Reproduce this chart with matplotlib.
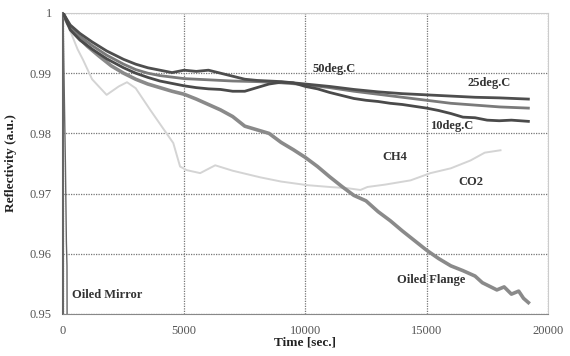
import matplotlib
matplotlib.use("Agg")
import matplotlib.pyplot as plt

# Reflectivity time series (time in seconds)
t_25 = [0, 300, 700, 1200, 1800, 2500, 3000, 3500, 4000, 4500, 5000, 5500, 6000, 6500, 7000,
        7500, 8000, 8500, 9000, 9500, 10000, 11000, 12000, 13000, 14000, 15000, 16000, 17000,
        18000, 19200]
r_25 = [1.0, 0.9980, 0.9966, 0.9952, 0.9937, 0.9923, 0.9915, 0.9909, 0.9905, 0.9901, 0.9905,
        0.9903, 0.9905, 0.9900, 0.9895, 0.9890, 0.9888, 0.9887, 0.9886, 0.9884, 0.9882, 0.9878,
        0.9873, 0.9869, 0.9866, 0.9864, 0.9862, 0.9860, 0.9859, 0.9857]

t_50 = [0, 300, 700, 1200, 1800, 2500, 3000, 3500, 4000, 5000, 6000, 7000, 8000, 9000, 10000,
        11000, 12000, 13000, 14000, 15000, 16000, 17000, 18000, 19200]
r_50 = [1.0, 0.9977, 0.9961, 0.9946, 0.9930, 0.9915, 0.9906, 0.9900, 0.9896, 0.9891, 0.9889,
        0.9887, 0.9886, 0.9884, 0.9881, 0.9876, 0.9870, 0.9865, 0.9860, 0.9855, 0.9850, 0.9847,
        0.9844, 0.9842]

t_10 = [0, 300, 700, 1200, 1800, 2500, 3000, 3500, 4000, 4500, 5000, 5500, 6000, 6500, 7000,
        7500, 8000, 8500, 9000, 9500, 10000, 10500, 11000, 11500, 12000, 12500, 13000, 13500,
        14000, 14500, 15000, 15500, 16000, 16500, 17000, 17500, 18000, 18500, 19200]
r_10 = [1.0, 0.9972, 0.9955, 0.9940, 0.9924, 0.9909, 0.9900, 0.9893, 0.9887, 0.9883, 0.9879,
        0.9876, 0.9874, 0.9873, 0.9870, 0.9870, 0.9876, 0.9882, 0.9885, 0.9884, 0.9878, 0.9874,
        0.9868, 0.9863, 0.9858, 0.9855, 0.9853, 0.9850, 0.9848, 0.9845, 0.9842, 0.9838, 0.9833,
        0.9827, 0.9826, 0.9822, 0.9821, 0.9822, 0.9820]

t_flange = [0, 200, 500, 1000, 1500, 2000, 2500, 3000, 3500, 4000, 4500, 5000, 5500, 6000, 6500,
            7000, 7500, 8000, 8500, 9000, 9500, 10000, 10500, 11000, 11500, 12000, 12500, 13000,
            13500, 14000, 14500, 15000, 15500, 16000, 16500, 17000, 17300, 17600, 17900, 18200,
            18500, 18800, 19000, 19200]
r_flange = [1.0, 0.9982, 0.9965, 0.9945, 0.9928, 0.9912, 0.9900, 0.9890, 0.9882, 0.9876, 0.9870,
            0.9865, 0.9857, 0.9848, 0.9839, 0.9828, 0.9812, 0.9806, 0.9800, 0.9785, 0.9773,
            0.9760, 0.9745, 0.9728, 0.9712, 0.9697, 0.9688, 0.9670, 0.9655, 0.9638, 0.9622,
            0.9606, 0.9592, 0.9580, 0.9572, 0.9563, 0.9552, 0.9546, 0.9540, 0.9545, 0.9533,
            0.9538, 0.9526, 0.9519]

t_gas = [0, 300, 600, 830, 1200, 1800, 2300, 2640, 3000, 3600, 4100, 4550, 4830, 5100, 5660,
         6280, 7000, 8140, 9000, 10080, 11000, 11730, 12270, 12560, 13300, 14340, 15160, 16000,
         16810, 17400, 18050]
r_gas = [1.0, 0.997, 0.994, 0.9922, 0.989, 0.9864, 0.9878, 0.9885, 0.9875, 0.9839, 0.981,
         0.9784, 0.9745, 0.9739, 0.9734, 0.9747, 0.9738, 0.9727, 0.9720, 0.9714, 0.9711, 0.9709,
         0.9706, 0.9711, 0.9715, 0.9722, 0.9734, 0.9742, 0.9755, 0.9768, 0.9772]

t_mirror = [0, 60, 100, 140, 165, 170]
r_mirror = [1.0, 0.985, 0.975, 0.962, 0.958, 0.949]

x_ticks = [0, 5000, 10000, 15000, 20000]
y_ticks = [0.95, 0.96, 0.97, 0.98, 0.99, 1.0]
y_tick_labels = ["0.95", "0.96", "0.97", "0.98", "0.99", "1"]

serif = ["Liberation Serif", "DejaVu Serif"]

fig = plt.figure(figsize=(5.7, 3.56), dpi=100)
ax = fig.add_axes([0.1105, 0.118, 0.8505, 0.8455])

ax.set_xlim(0, 20000)
ax.set_ylim(0.95, 1.0)
ax.set_xticks(x_ticks)
ax.set_yticks(y_ticks)
ax.set_yticklabels(y_tick_labels)
ax.tick_params(length=0, labelsize=9, colors="#555555", pad=8)
for lab in ax.get_xticklabels() + ax.get_yticklabels():
    lab.set_fontfamily(serif)

ax.grid(True, color="#777777", linestyle=(0, (1, 1)), linewidth=0.9)
ax.set_axisbelow(True)
for side in ("top", "right"):
    ax.spines[side].set_color("#cccccc")
    ax.spines[side].set_linewidth(0.8)
ax.spines["bottom"].set_color("#888888")
ax.spines["bottom"].set_linestyle((0, (1, 1)))
ax.spines["left"].set_color("#666666")
ax.spines["left"].set_linewidth(1.5)

ax.plot(t_gas, r_gas, color="#d4d4d4", linewidth=1.4, zorder=2)
ax.plot(t_mirror, r_mirror, color="#666666", linewidth=1.0, zorder=2, clip_on=True)
ax.plot(t_flange, r_flange, color="#8a8a8a", linewidth=2.6, zorder=3)
ax.plot(t_50, r_50, color="#7a7a7a", linewidth=2.0, zorder=4)
ax.plot(t_25, r_25, color="#4e4e4e", linewidth=2.0, zorder=4)
ax.plot(t_10, r_10, color="#4a4a4a", linewidth=2.0, zorder=4)

label_kw = dict(fontfamily=serif, fontweight="bold", fontsize=9, color="#333333",
                va="center", ha="left", zorder=6)
ax.text(10300, 0.9907, "50deg.C", **label_kw)
ax.text(16700, 0.9884, "25deg.C", **label_kw)
ax.text(15150, 0.9812, "10deg.C", **label_kw)
ax.text(13170, 0.9760, "CH4", **label_kw)
ax.text(16300, 0.9719, "CO2", **label_kw)
ax.text(13790, 0.9556, "Oiled Flange", **label_kw)
ax.text(370, 0.9531, "Oiled Mirror", **label_kw)

ax.set_xlabel("Time [sec.]", fontfamily=serif, fontweight="bold", fontsize=9.5,
              color="#222222", labelpad=0)
ax.set_ylabel("Reflectivity (a.u.)", fontfamily=serif, fontweight="bold", fontsize=9.5,
              color="#222222")
ax.xaxis.set_label_coords(0.5, -0.075)
ax.yaxis.set_label_coords(-0.095, 0.5)

fig.savefig("out.png", dpi=100)
